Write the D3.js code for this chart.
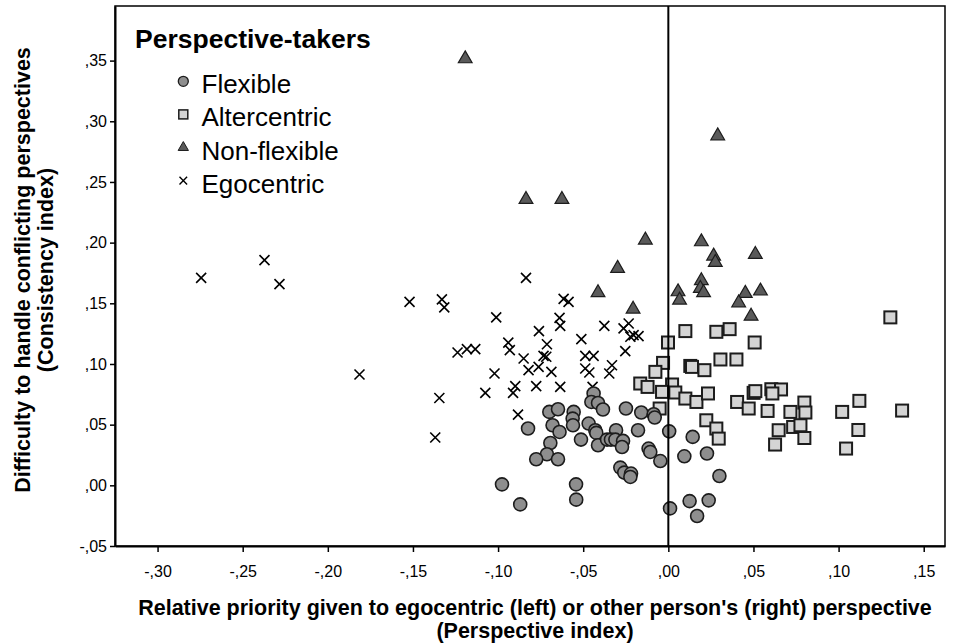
<!DOCTYPE html>
<html>
<head>
<meta charset="utf-8">
<script src="https://cdn.jsdelivr.net/npm/d3@7"></script>
<style>
  body { margin: 0; background: #fff; }
  svg { display: block; }
  text { font-family: "Liberation Sans", Arial, Helvetica, sans-serif; fill: #000; }
</style>
</head>
<body>
<svg id="chart" width="958" height="643"></svg>
<script>
// Group names shown in the legend
const groupNames = ["Flexible", "Altercentric", "Non-flexible", "Egocentric"];

// Axis ticks and their labels (decimal comma)
const xTicks = [-0.30, -0.25, -0.20, -0.15, -0.10, -0.05, 0.00, 0.05, 0.10, 0.15];
const xTickLabels = ["-,30", "-,25", "-,20", "-,15", "-,10", "-,05", ",00", ",05", ",10", ",15"];
const yTicks = [-0.05, 0.00, 0.05, 0.10, 0.15, 0.20, 0.25, 0.30, 0.35];
const yTickLabels = ["-,05", ",00", ",05", ",10", ",15", ",20", ",25", ",30", ",35"];

// [perspective index, consistency index] per participant
const flexible = [
  [-0.0439, 0.0757], [-0.0452, 0.0687], [-0.0413, 0.0679], [-0.0384, 0.0625],
  [-0.0699, 0.0605], [-0.0648, 0.0627], [-0.0556, 0.0605], [-0.0562, 0.0550],
  [-0.0560, 0.0495], [-0.0680, 0.0495], [-0.0639, 0.0440], [-0.0824, 0.0468],
  [-0.0468, 0.0509], [-0.0429, 0.0454], [-0.0423, 0.0432], [-0.0513, 0.0377],
  [-0.0413, 0.0330], [-0.0249, 0.0633], [-0.0159, 0.0600], [-0.0086, 0.0586],
  [-0.0080, 0.0559], [-0.0178, 0.0454], [-0.0307, 0.0454], [-0.0360, 0.0377],
  [-0.0337, 0.0377], [-0.0311, 0.0377], [-0.0266, 0.0366], [-0.0272, 0.0316],
  [-0.0693, 0.0349], [-0.0713, 0.0256], [-0.0776, 0.0215], [-0.0648, 0.0215],
  [-0.0116, 0.0303], [-0.0106, 0.0275], [-0.0047, 0.0200], [-0.0282, 0.0146],
  [-0.0259, 0.0105], [-0.0219, 0.0097], [-0.0223, 0.0069], [-0.0977, 0.0008],
  [-0.0542, 0.0008], [-0.0541, -0.0118], [-0.0870, -0.0157], [0.0005, 0.0445],
  [0.0010, -0.0190], [0.0143, 0.0399], [0.0094, 0.0239], [0.0227, 0.0262],
  [0.0300, 0.0077], [0.0125, -0.0130], [0.0237, -0.0124], [0.0169, -0.0253]
];

const altercentric = [
  [0.1304, 0.1384], [0.0100, 0.1271], [0.0282, 0.1265], [0.0360, 0.1287],
  [0.0507, 0.1177], [-0.0002, 0.1177], [-0.0031, 0.1009], [0.0129, 0.0984],
  [0.0139, 0.0976], [0.0212, 0.0949], [0.0306, 0.1037], [0.0400, 0.1037],
  [0.0022, 0.0831], [-0.0037, 0.0770], [0.0041, 0.0765], [0.0100, 0.0715],
  [0.0165, 0.0687], [0.0233, 0.0757], [0.0404, 0.0687], [0.0472, 0.0633],
  [0.0501, 0.0762], [0.0511, 0.0776], [0.0605, 0.0792], [0.0662, 0.0790],
  [0.0611, 0.0757], [0.0583, 0.0613], [0.0717, 0.0605], [0.0799, 0.0682],
  [0.0805, 0.0600], [0.0223, 0.0536], [0.0282, 0.0468], [0.0296, 0.0385],
  [0.0648, 0.0454], [0.0733, 0.0481], [0.0776, 0.0495], [0.0799, 0.0390],
  [0.0627, 0.0336], [0.1021, 0.0605], [0.1122, 0.0696], [0.1116, 0.0456],
  [0.1044, 0.0303], [0.1373, 0.0616], [-0.0076, 0.0935], [-0.0165, 0.0839],
  [-0.0122, 0.0811], [-0.0051, 0.0633]
];

const nonFlexible = [
  [-0.1193, 0.3515], [-0.0836, 0.2356], [-0.0625, 0.2356], [-0.0135, 0.2021],
  [-0.0298, 0.1788], [-0.0413, 0.1587], [-0.0207, 0.1452], [0.0290, 0.2880],
  [0.0194, 0.2007], [0.0266, 0.1889], [0.0276, 0.1837], [0.0511, 0.1903],
  [0.0194, 0.1686], [0.0188, 0.1623], [0.0207, 0.1587], [0.0057, 0.1595],
  [0.0452, 0.1582], [0.0541, 0.1601], [0.0066, 0.1526], [0.0413, 0.1504],
  [0.0486, 0.1394]
];

const egocentric = [
  [-0.2744, 0.1710], [-0.2372, 0.1856], [-0.2284, 0.1658], [-0.1520, 0.1512],
  [-0.1814, 0.0913], [-0.0836, 0.1710], [-0.1330, 0.1532], [-0.1316, 0.1466],
  [-0.1011, 0.1384], [-0.0615, 0.1537], [-0.0586, 0.1512], [-0.0639, 0.1380],
  [-0.0635, 0.1314], [-0.0760, 0.1271], [-0.0376, 0.1314], [-0.0263, 0.1293],
  [-0.0233, 0.1334], [-0.0204, 0.1238], [-0.0175, 0.1229], [-0.0223, 0.1224],
  [-0.0511, 0.1205], [-0.0713, 0.1163], [-0.0940, 0.1176], [-0.0931, 0.1114],
  [-0.0253, 0.1106], [-0.1238, 0.1095], [-0.1183, 0.1122], [-0.1134, 0.1122],
  [-0.0850, 0.1045], [-0.0733, 0.1067], [-0.0717, 0.1060], [-0.0488, 0.1067],
  [-0.0439, 0.1067], [-0.0821, 0.0949], [-0.0762, 0.0976], [-0.0687, 0.0935],
  [-0.1021, 0.0922], [-0.0488, 0.0963], [-0.0464, 0.0930], [-0.0331, 0.0990],
  [-0.0347, 0.0922], [-0.1345, 0.0720], [-0.1075, 0.0762], [-0.0899, 0.0817],
  [-0.0912, 0.0762], [-0.0776, 0.0817], [-0.0635, 0.0811], [-0.0445, 0.0811],
  [-0.0883, 0.0583], [-0.1369, 0.0394]
];

const svg = d3.select("#chart");
const plot = { left: 115, right: 945, top: 6, bottom: 546 };

const x = d3.scaleLinear().domain([-0.325, 0.1625]).range([plot.left, plot.right]);
const y = d3.scaleLinear().domain([-0.05, 0.395]).range([plot.bottom, plot.top]);

// Frame around the plotting area
svg.append("rect")
  .attr("x", plot.left).attr("y", plot.top)
  .attr("width", plot.right - plot.left).attr("height", plot.bottom - plot.top)
  .attr("fill", "none").attr("stroke", "#000").attr("stroke-width", 1.5);

// Axes
const xAxis = d3.axisBottom(x)
  .tickValues(xTicks)
  .tickFormat((d, i) => xTickLabels[i])
  .tickSizeInner(6).tickSizeOuter(0).tickPadding(14);
const gx = svg.append("g").attr("transform", `translate(0,${plot.bottom})`).call(xAxis);

const yAxis = d3.axisLeft(y)
  .tickValues(yTicks)
  .tickFormat((d, i) => yTickLabels[i])
  .tickSizeInner(5).tickSizeOuter(0).tickPadding(3);
const gy = svg.append("g").attr("transform", `translate(${plot.left},0)`).call(yAxis);

[gx, gy].forEach(g => {
  g.select(".domain").attr("stroke", "#000").attr("stroke-width", 2);
  g.selectAll(".tick line").attr("stroke", "#000").attr("stroke-width", 1.5);
  g.selectAll(".tick text")
    .attr("font-family", "'Liberation Sans', Arial, sans-serif")
    .attr("font-size", 16).attr("fill", "#000");
});

// Marker drawing helpers
const markerStroke = "#1c1c1c";
function drawCircles(g, data, r) {
  g.selectAll(null).data(data).enter().append("circle")
    .attr("cx", d => x(d[0])).attr("cy", d => y(d[1])).attr("r", r)
    .attr("fill", "#8e8e8e").attr("stroke", markerStroke).attr("stroke-width", 1.6);
}
function drawSquares(g, data, s) {
  g.selectAll(null).data(data).enter().append("rect")
    .attr("x", d => x(d[0]) - s / 2).attr("y", d => y(d[1]) - s / 2)
    .attr("width", s).attr("height", s)
    .attr("fill", "#d4d4d4").attr("stroke", markerStroke).attr("stroke-width", 2);
}
const triangle = d3.symbol().type(d3.symbolTriangle);
function drawTriangles(g, data, size) {
  g.selectAll(null).data(data).enter().append("path")
    .attr("d", triangle.size(size)())
    .attr("transform", d => `translate(${x(d[0])},${y(d[1])})`)
    .attr("fill", "#5a5a5a").attr("stroke", markerStroke).attr("stroke-width", 1.2);
}
function crossPath(h) {
  return `M${-h},${-h}L${h},${h}M${-h},${h}L${h},${-h}`;
}
function drawCrosses(g, data, h) {
  g.selectAll(null).data(data).enter().append("path")
    .attr("d", crossPath(h))
    .attr("transform", d => `translate(${x(d[0])},${y(d[1])})`)
    .attr("fill", "none").attr("stroke", "#000").attr("stroke-width", 1.6);
}

const marks = svg.append("g");
drawCrosses(marks.append("g"), egocentric, 5);
drawSquares(marks.append("g"), altercentric, 12);
drawCircles(marks.append("g"), flexible, 6.5);
drawTriangles(marks.append("g"), nonFlexible, 82);

// Reference line at perspective index 0
svg.append("line")
  .attr("x1", x(0)).attr("x2", x(0))
  .attr("y1", plot.top).attr("y2", plot.bottom)
  .attr("stroke", "#000").attr("stroke-width", 2);

// Legend
const legend = svg.append("g");
legend.append("text")
  .attr("x", 135).attr("y", 48)
  .attr("font-size", 26.5).attr("font-weight", "bold")
  .text("Perspective-takers");

const legendRows = [
  { name: groupNames[0], draw: (g, cx, cy) => g.append("circle").attr("cx", cx).attr("cy", cy).attr("r", 5)
      .attr("fill", "#8e8e8e").attr("stroke", markerStroke).attr("stroke-width", 1.3) },
  { name: groupNames[1], draw: (g, cx, cy) => g.append("rect").attr("x", cx - 4.5).attr("y", cy - 4.5)
      .attr("width", 9).attr("height", 9)
      .attr("fill", "#d4d4d4").attr("stroke", markerStroke).attr("stroke-width", 1.5) },
  { name: groupNames[2], draw: (g, cx, cy) => g.append("path").attr("d", triangle.size(46)())
      .attr("transform", `translate(${cx},${cy})`)
      .attr("fill", "#5a5a5a").attr("stroke", markerStroke).attr("stroke-width", 1) },
  { name: groupNames[3], draw: (g, cx, cy) => g.append("path").attr("d", crossPath(3.8))
      .attr("transform", `translate(${cx},${cy})`)
      .attr("fill", "none").attr("stroke", "#000").attr("stroke-width", 1.4) }
];
legendRows.forEach((row, i) => {
  const baseY = 93.3 + i * 33.1;
  row.draw(legend, 183.3, baseY - 12);
  legend.append("text")
    .attr("x", 201.5).attr("y", baseY)
    .attr("font-size", 26)
    .text(row.name);
});

// Axis titles
const xTitle = svg.append("text")
  .attr("text-anchor", "middle")
  .attr("font-size", 21.5).attr("font-weight", "bold");
xTitle.append("tspan").attr("x", 535).attr("y", 615)
  .text("Relative priority given to egocentric (left) or other person's (right) perspective");
xTitle.append("tspan").attr("x", 535).attr("y", 638)
  .text("(Perspective index)");

const yTitle = svg.append("text")
  .attr("text-anchor", "middle")
  .attr("transform", "translate(0,270) rotate(-90)")
  .attr("font-size", 21.5).attr("font-weight", "bold");
yTitle.append("tspan").attr("x", 0).attr("y", 30)
  .text("Difficulty to handle conflicting perspectives");
yTitle.append("tspan").attr("x", 0).attr("y", 53)
  .text("(Consistency index)");
</script>
</body>
</html>
